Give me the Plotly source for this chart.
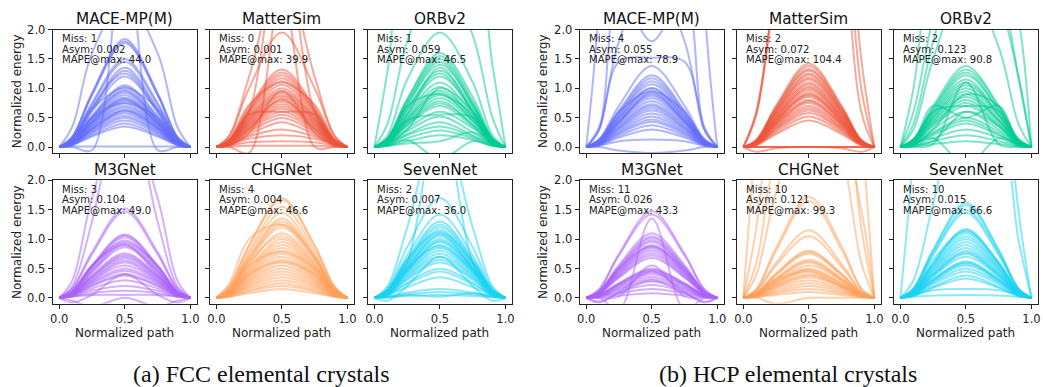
import plotly.graph_objects as go

# Normalized reaction-path positions at which each curve is sampled
# (both end points sit at zero energy by construction).
PATH_X = [0.0, 0.1, 0.25, 0.5, 0.75, 0.9, 1.0]

MODELS = ["MACE-MP(M)", "MatterSim", "ORBv2", "M3GNet", "CHGNet", "SevenNet"]
COLORS = ["#636EFA", "#EF553B", "#00CC96", "#AB63FA", "#FFA15A", "#19D3F3"]

# Interior energies of every path at x = 0.1, 0.25, 0.5, 0.75, 0.9
FCC_MACE = [
    [.35, 1.6, 2.5, 1.6, .35], [0, -.05, 3.5, -.05, 0],
    [.18, .92, 1.84, .92, .18], [.17, .9, 1.8, .9, .17], [.16, .88, 1.77, .88, .16],
    [.14, .75, 1.5, .75, .14], [.13, .72, 1.45, .72, .13], [.12, .66, 1.35, .66, .12],
    [.11, .63, 1.3, .63, .11], [.11, .6, 1.2, .6, .11], [.1, .53, 1.05, .53, .1],
    [.1, .51, 1.02, .51, .1], [.09, .48, .97, .48, .09], [.09, .46, .92, .46, .09],
    [.08, .44, .88, .44, .08], [.08, .42, .84, .42, .08], [.08, .41, .8, .41, .08],
    [.07, .39, .78, .39, .07], [.07, .37, .74, .37, .07], [.07, .36, .7, .36, .07],
    [.06, .34, .67, .34, .06], [.06, .32, .63, .32, .06], [.06, .31, .6, .31, .06],
    [.05, .29, .57, .29, .05], [.05, .27, .53, .27, .05], [.05, .25, .5, .25, .05],
    [.04, .23, .45, .23, .04], [.04, .2, .4, .2, .04], [.03, .18, .35, .18, .03],
    [.01, .01, .01, .01, .01], [.09, .5, .95, .45, .08], [.07, .42, .82, .4, .07],
    [.05, .3, .62, .33, .06], [.12, .68, 1.25, .6, .1], [.15, .65, 1.0, .65, .15],
    [.12, .5, .75, .5, .12],
]
FCC_MATTERSIM = [
    [.1, .6, 3.5, .6, .1], [.2, 1.2, 3.0, 1.2, .2], [.19, 1.0, 1.95, 1.0, .19],
    [.13, .68, 1.32, .68, .13], [.12, .64, 1.27, .64, .12], [.12, .62, 1.22, .62, .12],
    [.11, .57, 1.12, .57, .11], [.1, .54, 1.06, .54, .1], [.1, .51, 1.0, .51, .1],
    [.1, .49, .96, .49, .1], [.09, .47, .92, .47, .09], [.09, .45, .88, .45, .09],
    [.08, .43, .85, .43, .08], [.08, .41, .8, .41, .08], [.08, .39, .77, .39, .08],
    [.07, .37, .73, .37, .07], [.07, .35, .69, .35, .07], [.06, .33, .65, .33, .06],
    [.06, .31, .6, .31, .06], [.05, .28, .55, .28, .05], [.05, .25, .5, .25, .05],
    [.04, .21, .42, .21, .04], [.04, .18, .3, .18, .04], [.03, .14, .2, .14, .03],
    [.02, .08, .1, .08, .02], [.1, .55, .6, .55, .1], [0, -.1, 2.6, 0, 0],
    [.14, .72, 1.1, .72, .14], [.03, .24, .95, .24, .03], [.05, .3, .82, .3, .05],
    [.11, .6, 1.17, .6, .11], [.01, .02, .02, .02, .01],
]
FCC_ORB = [
    [1.3, 3.5, 4.0, 3.5, 1.4], [.4, 1.8, 3.0, 1.9, .5], [.2, 1.15, 1.95, 1.1, .2],
    [.15, .82, 1.6, .85, .16], [.15, .8, 1.55, .78, .14], [.14, .76, 1.5, .74, .14],
    [.13, .73, 1.45, .7, .12], [.13, .7, 1.4, .72, .13], [.12, .65, 1.3, .66, .12],
    [.12, .64, 1.25, .6, .11], [.11, .6, 1.2, .62, .11], [.1, .56, 1.1, .55, .1],
    [.1, .52, 1.02, .5, .1], [.09, .49, .96, .5, .09], [.09, .47, .92, .45, .09],
    [.08, .45, .88, .46, .08], [.08, .42, .83, .43, .08], [.08, .4, .78, .38, .07],
    [.07, .38, .74, .38, .07], [.07, .36, .7, .35, .07], [.06, .31, .6, .32, .06],
    [.05, .27, .52, .25, .05], [.05, .22, .42, .2, .04], [.04, .2, .35, .18, .04],
    [.03, .15, .28, .15, .03], [.02, .1, .2, .12, .02], [.02, .12, -.2, .1, .02],
    [.05, .3, 1.0, .6, .05], [.06, .45, .55, .5, .06], [.12, .7, .9, .55, .08],
    [.02, .06, .1, .25, .05], [.1, .55, 1.35, .6, .1],
]
FCC_M3GNET = [
    [.3, 1.7, 3.2, 1.7, .3], [.2, 1.3, 3.5, 1.3, .2], [.16, .78, 1.52, .78, .16],
    [.15, .74, 1.47, .74, .15], [.11, .55, 1.08, .55, .11], [.11, .54, 1.06, .54, .11],
    [.1, .52, 1.03, .52, .1], [.1, .5, .98, .5, .1], [.09, .47, .93, .47, .09],
    [.09, .45, .9, .45, .09], [.08, .43, .86, .43, .08], [.08, .39, .76, .39, .08],
    [.07, .37, .73, .37, .07], [.07, .36, .7, .36, .07], [.07, .34, .67, .34, .07],
    [.06, .32, .63, .32, .06], [.06, .3, .6, .3, .06], [.05, .28, .55, .28, .05],
    [.05, .26, .5, .26, .05], [.05, .24, .46, .24, .05], [.04, .21, .41, .21, .04],
    [.04, .2, .38, .2, .04], [.03, .16, .3, .16, .03], [.03, .12, .2, .12, .03],
    [.02, .08, .12, .08, .02], [-.05, -.15, 0, -.15, -.05], [-.08, .05, .4, .05, -.08],
    [.02, .05, .05, .05, .02], [.1, .55, .95, .55, .1], [.12, .55, .9, .4, .08],
]
FCC_CHGNET = [
    [.2, .9, 1.7, .9, .2], [.2, .88, 1.67, .87, .19], [.17, .8, 1.55, .8, .17],
    [.15, .75, 1.45, .73, .15], [.14, .7, 1.35, .7, .14], [.14, .68, 1.3, .66, .13],
    [.13, .65, 1.25, .65, .13], [.12, .62, 1.2, .6, .12], [.11, .57, 1.1, .57, .11],
    [.1, .52, 1.0, .52, .1], [.1, .49, .95, .49, .1], [.09, .46, .9, .47, .09],
    [.09, .44, .85, .44, .09], [.08, .41, .8, .41, .08], [.08, .39, .75, .39, .08],
    [.07, .36, .7, .36, .07], [.07, .34, .65, .34, .07], [.06, .31, .6, .31, .06],
    [.06, .29, .55, .29, .06], [.05, .26, .5, .26, .05], [.05, .24, .45, .24, .05],
    [.04, .21, .4, .21, .04], [.04, .19, .35, .19, .04], [.03, .16, .3, .16, .03],
    [.03, .13, .25, .13, .03], [.02, .11, .2, .11, .02], [.02, .08, .15, .08, .02],
    [.25, 1.0, 1.25, .7, .12], [.12, .6, 1.05, .55, .1], [.07, .4, .62, .4, .07],
    [.1, .55, .78, .5, .08],
]
FCC_SEVENNET = [
    [.1, .6, 3.2, .6, .1], [.2, 1.2, 3.0, 1.2, .2], [.16, .86, 1.7, .86, .16],
    [.14, .72, 1.42, .72, .14], [.13, .66, 1.3, .66, .13], [.12, .63, 1.25, .63, .12],
    [.12, .61, 1.2, .61, .12], [.11, .58, 1.15, .58, .11], [.11, .56, 1.1, .56, .11],
    [.1, .53, 1.05, .53, .1], [.1, .51, 1.0, .51, .1], [.09, .48, .95, .48, .09],
    [.09, .46, .9, .46, .09], [.08, .43, .85, .43, .08], [.08, .41, .8, .41, .08],
    [.07, .38, .75, .38, .07], [.07, .36, .7, .36, .07], [.06, .33, .65, .33, .06],
    [.06, .31, .6, .31, .06], [.05, .26, .5, .26, .05], [.05, .23, .45, .23, .05],
    [.04, .18, .35, .18, .04], [.02, .09, .15, .09, .02], [.02, .06, .1, .06, .02],
    [.01, .03, .05, .03, .01], [.1, .5, .88, .45, .08], [.08, .45, .97, .5, .1],
    [-.05, .2, .7, .2, -.05], [.12, .65, 1.12, .6, .11], [.09, .5, 1.08, .5, .09],
    [0, .05, .02, .08, .03],
]

HCP_MACE = [
    [2.5, 12, 20, 12, 2.5], [.3, 2.6, 1.8, 2.6, .3], [.3, 1.45, 1.52, 1.45, .3],
    [.35, 1.8, 3.0, 1.8, .35], [.14, .7, 1.38, .7, .14], [.12, .62, 1.22, .62, .12],
    [.12, .59, 1.17, .59, .12], [.11, .56, 1.12, .56, .11], [.11, .54, 1.07, .54, .11],
    [.1, .51, 1.01, .51, .1], [.1, .5, .99, .5, .1], [.1, .48, .95, .48, .1],
    [.09, .45, .9, .45, .09], [.09, .44, .87, .44, .09], [.08, .42, .83, .42, .08],
    [.08, .4, .78, .4, .08], [.07, .37, .73, .37, .07], [.07, .35, .7, .35, .07],
    [.07, .33, .66, .33, .07], [.06, .31, .62, .31, .06], [.06, .29, .57, .29, .06],
    [.05, .26, .52, .26, .05], [.05, .24, .47, .24, .05], [.04, .22, .43, .22, .04],
    [.04, .19, .37, .19, .04], [.03, .16, .3, .16, .03], [.02, .1, .13, .1, .02],
    [0, -.06, -.1, -.06, 0], [.12, .6, .95, .6, .12], [.08, .42, .92, .44, .08],
]
HCP_MATTERSIM = [
    [.6, 3, 8, 4.5, 1.0], [.6, 3, 8, 4, .6], [.55, 3, 8, 5, 1.5],
    [-.08, -.02, 0, -.02, -.08], [0, 0, 0, 0, 0], [0, 0, 0, 0, 0], [0, 0, 0, 0, 0],
    [.12, .7, 1.42, .7, .12], [.12, .68, 1.38, .68, .12], [.11, .65, 1.33, .65, .11],
    [.11, .64, 1.3, .64, .11], [.1, .61, 1.25, .61, .1], [.1, .6, 1.22, .6, .1],
    [.1, .58, 1.18, .58, .1], [.09, .56, 1.15, .56, .09], [.09, .54, 1.1, .54, .09],
    [.09, .52, 1.07, .52, .09], [.08, .5, 1.03, .5, .08], [.08, .49, 1.0, .49, .08],
    [.08, .47, .97, .47, .08], [.07, .45, .93, .45, .07], [.07, .44, .9, .44, .07],
    [.07, .43, .88, .43, .07], [.07, .41, .85, .41, .07], [.06, .39, .8, .39, .06],
    [.06, .38, .78, .38, .06], [.06, .36, .75, .36, .06], [.05, .34, .7, .34, .05],
    [.05, .32, .66, .32, .05], [.05, .3, .62, .3, .05], [.04, .28, .58, .28, .04],
    [.04, .25, .52, .25, .04], [.03, .22, .45, .22, .03],
]
HCP_ORB = [
    [1.0, 3.5, 5.0, 3.0, 1.2], [.4, 1.8, 3.5, 2.5, 1.2], [.6, 2.2, 4.0, 3.5, 2.2],
    [.3, 1.5, 2.8, 1.7, .4], [.14, .7, 1.38, .7, .14], [.13, .66, 1.32, .68, .13],
    [.13, .64, 1.27, .62, .12], [.12, .6, 1.22, .62, .12], [.11, .58, 1.15, .56, .11],
    [.11, .55, 1.1, .55, .11], [.1, .52, 1.05, .54, .1], [.1, .5, 1.0, .5, .1],
    [.09, .48, .95, .46, .09], [.09, .45, .9, .45, .09], [.08, .43, .85, .44, .08],
    [.08, .4, .8, .4, .08], [.07, .38, .75, .37, .07], [.07, .35, .7, .36, .07],
    [.06, .3, .6, .3, .06], [.05, .25, .5, .26, .05], [.05, .23, .45, .22, .04],
    [.04, .2, .4, .2, .04], [.03, .15, .3, .16, .03], [.02, .1, .2, .1, .02],
    [.01, .05, .1, .05, .01], [0, .05, 1.1, .05, 0], [.05, .15, -.3, .15, .05],
    [.08, .6, .7, .62, .08], [.05, .3, .9, .7, .1], [.1, .7, .5, .7, .1],
    [.02, .1, .6, .35, .03],
]
HCP_M3GNET = [
    [0, -.2, 1.35, -.2, 0], [0, .02, .55, .02, 0], [.15, .75, 1.48, .75, .15],
    [.14, .72, 1.42, .72, .14], [.11, .56, 1.1, .56, .11], [.11, .53, 1.05, .53, .11],
    [.1, .51, 1.02, .51, .1], [.1, .49, .98, .49, .1], [.1, .48, .95, .48, .1],
    [.09, .45, .9, .45, .09], [.09, .44, .87, .44, .09], [.08, .42, .84, .42, .08],
    [.08, .4, .8, .4, .08], [.08, .38, .76, .38, .08], [.07, .36, .72, .36, .07],
    [.07, .34, .68, .34, .07], [.05, .25, .5, .25, .05], [.05, .24, .48, .24, .05],
    [.05, .23, .46, .23, .05], [.04, .22, .43, .22, .04], [.04, .2, .4, .2, .04],
    [.04, .18, .36, .18, .04], [.03, .16, .32, .16, .03], [.03, .14, .28, .14, .03],
    [.02, .11, .22, .11, .02], [.02, .08, .15, .08, .02], [.01, .04, .08, .04, .01],
    [-.08, .1, .45, .1, -.08], [-.06, .08, .3, .08, -.06], [.1, .5, .88, .48, .1],
]
HCP_CHGNET = [
    [3, 8, 10, 8, 3], [1.2, 4, 6, 4, 1.2], [.6, 2.5, 4, 2.5, .6],
    [.4, 1.8, 3.2, 2.8, 1.5], [.15, .85, 1.72, .88, .16], [.14, .8, 1.65, .82, .15],
    [.12, .6, 1.15, .58, .11], [.11, .55, 1.05, .53, .1], [.08, .42, .8, .4, .08],
    [.08, .4, .78, .41, .08], [.08, .39, .75, .38, .07], [.07, .34, .65, .33, .07],
    [.06, .32, .62, .32, .06], [.06, .31, .6, .3, .06], [.06, .28, .55, .29, .05],
    [.05, .26, .5, .25, .05], [.05, .25, .48, .24, .05], [.05, .23, .45, .23, .04],
    [.04, .21, .4, .2, .04], [.04, .2, .38, .19, .04], [.04, .18, .35, .18, .03],
    [.03, .16, .3, .15, .03], [.03, .13, .25, .13, .03], [.02, .1, .2, .1, .02],
    [.02, .08, .15, .08, .02], [.01, .05, .1, .05, .01], [.07, .3, .45, .2, .08],
    [0, -.1, 0, 0, 0],
]
HCP_SEVENNET = [
    [2.5, 8, 10, 5, 1.5], [.3, 1.6, 3.5, 3.0, 1.0], [.16, .82, 1.62, .82, .16],
    [.16, .8, 1.58, .8, .16], [.15, .76, 1.5, .76, .15], [.14, .73, 1.45, .73, .14],
    [.12, .6, 1.17, .6, .12], [.12, .58, 1.15, .58, .12], [.11, .56, 1.1, .56, .11],
    [.11, .53, 1.05, .53, .11], [.1, .51, 1.0, .51, .1], [.09, .48, .95, .48, .09],
    [.09, .46, .9, .46, .09], [.08, .43, .85, .43, .08], [.08, .41, .8, .41, .08],
    [.08, .39, .77, .39, .08], [.07, .38, .75, .38, .07], [.07, .36, .7, .36, .07],
    [.06, .32, .62, .32, .06], [.06, .31, .6, .31, .06], [.06, .3, .58, .3, .06],
    [.05, .28, .55, .28, .05], [.05, .26, .5, .26, .05], [.04, .23, .45, .23, .04],
    [.04, .19, .38, .19, .04], [.03, .17, .33, .17, .03], [.05, .13, .15, .13, .05],
    [.02, .04, .05, .04, .02], [.12, .65, 1.13, .6, .1],
]

FCC_PATHS = [FCC_MACE, FCC_MATTERSIM, FCC_ORB, FCC_M3GNET, FCC_CHGNET, FCC_SEVENNET]
HCP_PATHS = [HCP_MACE, HCP_MATTERSIM, HCP_ORB, HCP_M3GNET, HCP_CHGNET, HCP_SEVENNET]

FCC_MISS = [1, 0, 1, 3, 4, 2]
FCC_ASYM = ["0.002", "0.001", "0.059", "0.104", "0.004", "0.007"]
FCC_MAPE = ["44.0", "39.9", "46.5", "49.0", "46.6", "36.0"]
HCP_MISS = [4, 2, 2, 11, 10, 10]
HCP_ASYM = ["0.055", "0.072", "0.123", "0.026", "0.121", "0.015"]
HCP_MAPE = ["78.9", "104.4", "90.8", "43.3", "99.3", "66.6"]

Y_TICKS = [0.0, 0.5, 1.0, 1.5, 2.0]
Y_TICK_TEXT = ["0.0", "0.5", "1.0", "1.5", "2.0"]
X_TICKS = [0.0, 0.5, 1.0]
X_TICK_TEXT = ["0.0", "0.5", "1.0"]

W, H = 1043, 387
# panel frames in pixels: columns for each group, rows shared
GROUP_COLS = [
    [(50, 195), (208, 353), (367, 512)],
    [(580, 725), (738, 883), (896, 1041)],
]
ROWS = [(23, 149), (177, 303)]

FONT = "DejaVu Sans"
fig = go.Figure()
layout = {}
annotations = []


def px_x(p):
    return p / W


def px_y(p):
    return 1 - p / H


panel = 0
for g, (paths, miss, asym, mape) in enumerate([
    (FCC_PATHS, FCC_MISS, FCC_ASYM, FCC_MAPE),
    (HCP_PATHS, HCP_MISS, HCP_ASYM, HCP_MAPE),
]):
    for m in range(6):
        r, c = divmod(m, 3)
        x0, x1 = GROUP_COLS[g][c]
        y0, y1 = ROWS[r]
        panel += 1
        sfx = "" if panel == 1 else str(panel)
        xa, ya = "x" + sfx, "y" + sfx
        layout["xaxis" + sfx] = dict(
            domain=[px_x(x0), px_x(x1)], anchor=ya, range=[-0.05, 1.05],
            tickvals=X_TICKS, ticktext=X_TICK_TEXT, showticklabels=(r == 1),
            ticks="outside", ticklen=4, tickwidth=1, tickcolor="#222",
            showline=True, linecolor="#222", linewidth=1, mirror=True,
            showgrid=False, zeroline=False,
            tickfont=dict(family=FONT, size=11.5, color="#222"),
        )
        layout["yaxis" + sfx] = dict(
            domain=[px_y(y1), px_y(y0)], anchor=xa, range=[-0.1, 2.0],
            tickvals=Y_TICKS, ticktext=Y_TICK_TEXT, showticklabels=(c == 0),
            ticks="outside", ticklen=4, tickwidth=1, tickcolor="#222",
            showline=True, linecolor="#222", linewidth=1, mirror=True,
            showgrid=False, zeroline=False,
            tickfont=dict(family=FONT, size=11.5, color="#222"),
        )
        for row in paths[m]:
            fig.add_trace(go.Scatter(
                x=PATH_X, y=[0.0] + list(row) + [0.0], xaxis=xa, yaxis=ya,
                mode="lines", line=dict(color=COLORS[m], width=2, shape="spline"),
                opacity=0.5, hoverinfo="skip", showlegend=False,
            ))
        cx = px_x((x0 + x1) / 2)
        annotations.append(dict(
            text=MODELS[m], x=cx, y=px_y(y0 - 11), xref="paper", yref="paper",
            showarrow=False, xanchor="center", yanchor="middle",
            font=dict(family=FONT, size=15.3, color="#111"),
        ))
        stats = [f"Miss: {miss[m]}", f"Asym: {asym[m]}", f"MAPE@max: {mape[m]}"]
        for k, s in enumerate(stats):
            annotations.append(dict(
                text=s, x=px_x(x0 + 8), y=px_y(y0 + 9 + 11 * k),
                xref="paper", yref="paper", showarrow=False, borderpad=0,
                xanchor="left", yanchor="middle",
                font=dict(family=FONT, size=10.1, color="#222"),
            ))
        if r == 1:
            annotations.append(dict(
                text="Normalized path", x=cx, y=px_y(333), xref="paper", yref="paper",
                showarrow=False, xanchor="center", yanchor="middle",
                font=dict(family=FONT, size=12, color="#222"),
            ))
        if c == 0:
            annotations.append(dict(
                text="Normalized energy", x=px_x(14 if g == 0 else 543),
                y=px_y((y0 + y1) / 2), xref="paper", yref="paper",
                showarrow=False, xanchor="center", yanchor="middle", textangle=-90,
                font=dict(family=FONT, size=12, color="#222"),
            ))

for text, cx in [("(a) FCC elemental crystals", 260), ("(b) HCP elemental crystals", 790)]:
    annotations.append(dict(
        text=text, x=px_x(cx), y=px_y(375), xref="paper", yref="paper",
        showarrow=False, xanchor="center", yanchor="middle",
        font=dict(family="Liberation Serif", size=24, color="#111"),
    ))

fig.update_layout(
    width=W, height=H, margin=dict(l=0, r=0, t=0, b=0),
    paper_bgcolor="white", plot_bgcolor="white", showlegend=False,
    annotations=annotations, **layout,
)
fig.write_html("out.html")
